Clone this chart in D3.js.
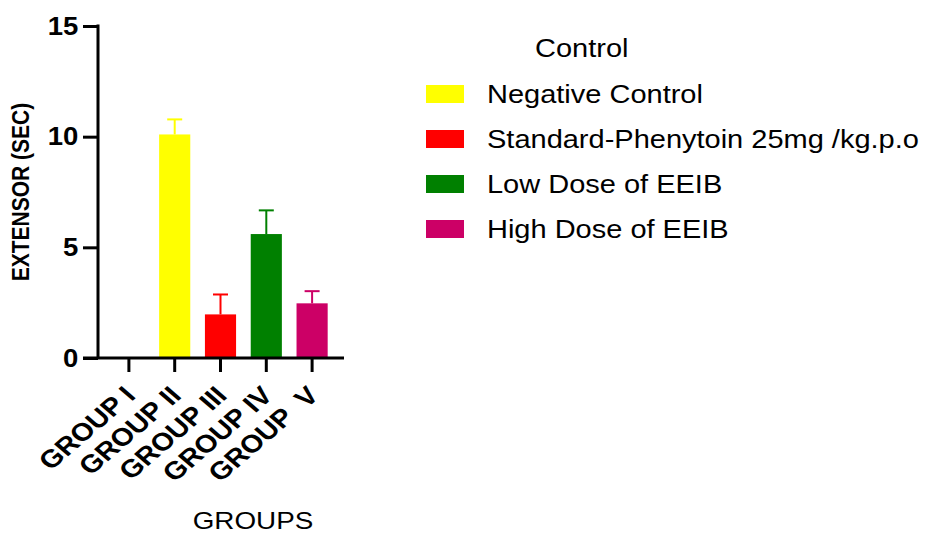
<!DOCTYPE html>
<html>
<head>
<meta charset="utf-8">
<script src="https://cdn.jsdelivr.net/npm/d3@7"></script>
<style>
  body { margin: 0; background: #fff; }
  svg { display: block; font-family: "Liberation Sans", Arial, sans-serif; }
</style>
</head>
<body>
<div id="chart"></div>
<script>
// data
const groups = ["GROUP I", "GROUP II", "GROUP III", "GROUP IV", "GROUP  V"];
const means = [0, 10.1, 1.97, 5.6, 2.47];
const errors = [0, 0.68, 0.9, 1.07, 0.55];
const colors = ["#ffffff", "#ffff00", "#ff0000", "#008000", "#cc0066"];
const legendTitle = "Control";
const legendLabels = ["Negative Control", "Standard-Phenytoin 25mg /kg.p.o", "Low Dose of EEIB", "High Dose of EEIB"];
const legendColors = ["#ffff00", "#ff0000", "#008000", "#cc0066"];
const yTicks = [0, 5, 10, 15];

const width = 937, height = 536;
const stretch = 1.16; // the original picture is a bit wider than tall

const svg = d3.select("#chart").append("svg")
  .attr("width", width)
  .attr("height", height);

const y = d3.scaleLinear().domain([0, 15]).range([358, 26]);
const x = d3.scaleBand().domain(groups).range([106, 335]).paddingInner(0.32).paddingOuter(0.16);
const axisX = 98;

// bars
svg.selectAll("rect.bar")
  .data(groups)
  .enter().append("rect")
    .attr("class", "bar")
    .attr("x", d => x(d))
    .attr("width", x.bandwidth())
    .attr("y", (d, i) => y(means[i]))
    .attr("height", (d, i) => y(0) - y(means[i]))
    .style("fill", (d, i) => colors[i]);

// error bars (upper only)
const err = svg.selectAll("g.err")
  .data(groups.filter((d, i) => means[i] > 0))
  .enter().append("g")
    .attr("class", "err")
    .style("stroke", d => colors[groups.indexOf(d)])
    .style("stroke-width", 2);
err.append("line")
  .attr("x1", d => x(d) + x.bandwidth() / 2)
  .attr("x2", d => x(d) + x.bandwidth() / 2)
  .attr("y1", d => y(means[groups.indexOf(d)]))
  .attr("y2", d => y(means[groups.indexOf(d)] + errors[groups.indexOf(d)]));
err.append("line")
  .attr("x1", d => x(d) + x.bandwidth() / 2 - 7.5)
  .attr("x2", d => x(d) + x.bandwidth() / 2 + 7.5)
  .attr("y1", d => y(means[groups.indexOf(d)] + errors[groups.indexOf(d)]))
  .attr("y2", d => y(means[groups.indexOf(d)] + errors[groups.indexOf(d)]));

// y axis
const yAxis = svg.append("g")
  .attr("transform", `translate(${axisX},0)`)
  .call(d3.axisLeft(y).tickValues(yTicks).tickSize(15).tickSizeOuter(0).tickPadding(3));
yAxis.select(".domain").remove();
yAxis.selectAll(".tick line").style("stroke", "#000").style("stroke-width", 3);
yAxis.selectAll(".tick text")
  .attr("transform", "scale(1.1,1)")
  .style("font-size", "25px")
  .style("font-weight", "bold")
  .style("fill", "#000");
svg.append("line")
  .attr("x1", axisX).attr("x2", axisX)
  .attr("y1", y(15) - 1.5).attr("y2", y(0))
  .style("stroke", "#000").style("stroke-width", 3);

// x axis
const xAxis = svg.append("g")
  .attr("transform", `translate(0,${y(0)})`)
  .call(d3.axisBottom(x).tickSize(14).tickSizeOuter(0));
xAxis.select(".domain").remove();
xAxis.selectAll(".tick line").style("stroke", "#000").style("stroke-width", 3);
xAxis.selectAll(".tick text").remove();
svg.append("line")
  .attr("x1", 83).attr("x2", 344)
  .attr("y1", y(0)).attr("y2", y(0))
  .style("stroke", "#000").style("stroke-width", 3);

// rotated group labels
svg.selectAll("text.xlab")
  .data(groups)
  .enter().append("text")
    .attr("class", "xlab")
    .attr("transform", d => `translate(${x(d) + x.bandwidth() / 2 + 8},397) scale(${stretch},1) rotate(-45)`)
    .attr("text-anchor", "end")
    .style("white-space", "pre")
    .style("font-size", "25px")
    .style("font-weight", "bold")
    .text(d => d);

// axis titles
svg.append("text")
  .attr("transform", `translate(29,192) scale(${stretch},1) rotate(-90)`)
  .attr("text-anchor", "middle")
  .style("font-size", "21px")
  .style("font-weight", "bold")
  .text("EXTENSOR (SEC)");

svg.append("text")
  .attr("transform", `translate(253,529) scale(${stretch},1)`)
  .attr("text-anchor", "middle")
  .style("font-size", "24px")
  .text("GROUPS");

// legend
const legend = svg.append("g");
legend.append("text")
  .attr("transform", `translate(535,57) scale(${stretch},1)`)
  .style("font-size", "25px")
  .text(legendTitle);

const item = legend.selectAll("g.item")
  .data(legendLabels)
  .enter().append("g")
    .attr("class", "item")
    .attr("transform", (d, i) => `translate(0,${94 + i * 45})`);
item.append("rect")
  .attr("x", 426).attr("y", -9)
  .attr("width", 38).attr("height", 18)
  .style("fill", (d, i) => legendColors[i]);
item.append("text")
  .attr("transform", `translate(487,9) scale(${stretch},1)`)
  .style("font-size", "25px")
  .text(d => d);
</script>
</body>
</html>
